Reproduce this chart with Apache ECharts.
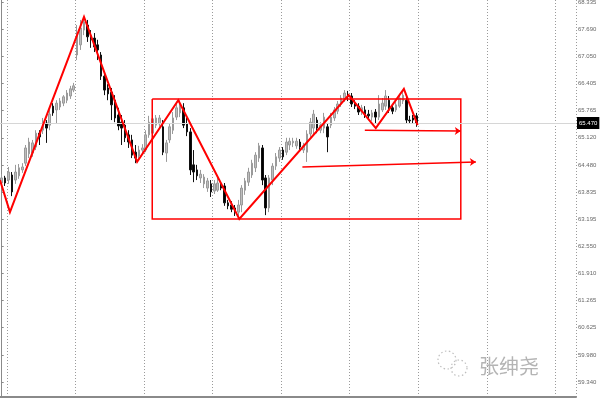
<!DOCTYPE html>
<html><head><meta charset="utf-8">
<script src="https://cdn.jsdelivr.net/npm/echarts@6/dist/echarts.min.js"></script>
<style>html,body{margin:0;padding:0;background:#fff}#c{width:600px;height:400px}</style>
</head><body><div id="c"></div>
<script>
// ---- data ----
// candles: [open, close, low, high]
const candles = [
[64.05,64.17,63.98,64.26],[64.17,64.05,63.98,64.22],[64.12,64.31,64.03,64.43],[64.24,63.84,63.74,64.31],
[64.12,64.31,64.03,64.48],[64.22,64.41,64.15,64.50],[64.36,64.43,64.29,64.52],[64.52,64.88,64.45,64.95],
[64.74,65.02,64.64,65.12],[64.76,65.00,64.67,65.07],[64.90,65.23,64.83,65.30],[65.23,65.14,64.95,65.30],
[65.30,65.49,65.21,65.59],[65.47,65.35,65.00,65.54],[65.42,65.68,65.30,65.78],[65.87,65.71,65.64,65.94],
[65.78,65.94,65.47,66.01],[65.85,65.99,65.78,66.06],[65.94,66.09,65.87,66.13],[66.01,66.18,65.94,66.25],
[66.11,66.28,66.04,66.35],[66.25,66.35,66.20,66.42],[67.08,67.55,66.96,67.79],[67.32,67.72,67.20,67.91],
[67.67,67.86,67.55,67.96],[67.79,67.51,67.39,67.91],[67.53,67.44,67.25,67.67],[67.48,67.27,67.15,67.60],
[67.32,67.20,66.96,67.44],[67.08,66.58,66.49,67.15],[66.58,66.25,66.13,66.68],[66.30,66.16,66.01,66.39],
[66.20,65.90,65.54,66.30],[66.01,65.59,65.49,66.13],[65.66,65.40,65.30,65.83],[65.49,65.35,64.95,65.66],
[65.42,65.12,65.02,65.54],[65.19,65.02,64.88,65.30],[65.07,64.71,64.64,65.19],[64.78,64.64,64.52,64.95],
[64.69,64.83,64.60,64.93],[64.83,64.88,64.76,64.97],[64.83,65.19,64.78,65.30],[65.19,65.49,65.12,65.64],
[65.23,65.57,65.16,65.66],[65.42,65.59,65.35,65.66],[65.45,65.59,65.38,65.66],[65.38,64.78,64.71,65.54],
[64.76,65.00,64.55,65.07],[65.07,65.38,65.00,65.45],[65.30,65.59,65.21,65.73],[65.61,65.83,65.54,65.94],
[65.71,65.92,65.61,66.01],[65.83,65.42,65.35,65.94],[65.45,65.26,65.16,65.59],[65.26,64.36,64.24,65.35],
[64.48,64.31,64.07,64.83],[64.36,64.22,64.12,64.48],[64.17,64.26,64.05,64.36],[64.03,64.19,63.93,64.26],
[63.93,64.10,63.84,64.17],[64.03,63.84,63.72,64.12],[63.86,64.03,63.79,64.12],[63.88,64.05,63.84,64.17],
[63.98,63.93,63.88,64.07],[63.98,63.58,63.51,64.05],[63.58,63.51,63.43,63.65],[63.53,63.43,63.36,63.62],
[63.46,63.36,63.27,63.53],[63.36,63.53,63.20,63.65],[63.53,63.93,63.36,64.00],[63.88,64.10,63.77,64.17],
[64.07,64.31,63.98,64.41],[64.24,64.52,64.17,64.60],[64.41,64.71,64.31,64.78],[64.64,64.93,64.55,65.00],
[64.88,64.12,64.00,64.95],[64.17,63.46,63.29,64.24],[63.46,64.17,63.36,64.24],[64.12,64.45,64.00,64.52],
[64.45,64.67,64.36,64.76],[64.64,64.83,64.55,64.90],[64.83,64.67,64.60,64.90],[64.78,65.02,64.71,65.12],
[64.95,65.04,64.83,65.12],[65.00,65.04,64.90,65.12],[64.93,65.04,64.86,65.12],[65.02,64.90,64.83,65.09],
[64.83,64.93,64.76,65.00],[64.78,65.21,64.55,65.30],[65.21,65.49,65.14,65.59],[65.35,65.68,65.19,65.78],
[65.54,65.35,65.23,65.61],[65.30,65.42,65.23,65.49],[65.35,65.61,65.23,65.71],[65.38,65.14,64.78,65.45],
[65.42,65.61,65.35,65.71],[65.59,65.78,65.52,65.85],[65.75,65.92,65.68,65.99],[65.92,66.06,65.85,66.13],
[66.04,66.18,65.97,66.25],[66.13,66.09,65.99,66.23],[66.11,65.92,65.85,66.18],[65.94,65.87,65.80,66.01],
[65.87,65.73,65.66,65.94],[65.75,65.83,65.66,65.90],[65.78,65.68,65.59,65.87],[65.68,65.64,65.54,65.78],
[65.61,65.71,65.52,65.78],[65.73,65.61,65.45,65.80],[65.61,65.92,65.54,66.13],[65.78,65.94,65.73,66.06],
[65.87,66.11,65.78,66.25],[66.01,65.78,65.71,66.11],[65.83,65.75,65.68,65.92],[65.78,65.90,65.73,65.97],
[65.87,66.06,65.83,66.16],[65.99,66.13,65.92,66.25],[66.01,65.54,65.47,66.11],[65.54,65.52,65.45,65.64],
[65.59,65.54,65.45,65.66],[65.64,65.47,65.38,65.71]
];
const slotCount = 168;              // bar slots along the time axis (incl. empty right margin)
const priceTicks = [68.335,67.690,67.050,66.405,65.765,65.120,64.480,63.835,63.195,62.550,61.910,61.265,60.625,59.980,59.340];
const priceMin = 58.985, priceMax = 68.382;
const lastPrice = 65.470;
// annotations: [bar index, price]
const zigzag = [[-0.5,64.12],[2.4,63.36],[24.0,67.98],[39.5,64.55],[51.5,66.01],[69.3,63.20],[101.2,66.13],[109.1,65.35],[117.3,66.28],[121.3,65.42]];
const box = [[43.9,66.04],[133.9,63.20]];
const arrowUpper = [[105.9,65.30],[133.9,65.28]];
const arrowLower = [[87.7,64.43],[138.3,64.55]];
const watermark = '张绅尧';

// ---- chart ----
const categories = Array.from({length: slotCount}, (_, i) => String(i));
const boxPath = [[box[0][0],box[0][1]],[box[1][0],box[0][1]],[box[1][0],box[1][1]],[box[0][0],box[1][1]],[box[0][0],box[0][1]]];
const red = '#ff0000';

const chart = echarts.init(document.getElementById('c'), null, {renderer:'canvas'});
chart.setOption({
  animation: false,
  backgroundColor: '#ffffff',
  grid: {left: 0, right: 24, top: 0, bottom: 3, containLabel: false, outerBoundsMode: 'none'},
  xAxis: [{
    type: 'category', data: categories, boundaryGap: true,
    axisLine: {show: true, lineStyle: {color: '#8a8a8a', width: 2}},
    axisTick: {show: false}, axisLabel: {show: false},
    splitLine: {show: true, interval: function (idx) { return idx % 20 === 2; },
      lineStyle: {color: '#9a9a9a', width: 1, type: [1, 2]}}
  }, {
    type: 'value', min: -0.5, max: slotCount - 0.5, show: false,
    splitLine: {show: false}
  }],
  yAxis: [{
    type: 'value', position: 'right', min: priceMin, max: priceMax, scale: true,
    axisLine: {show: true, lineStyle: {color: '#8a8a8a', width: 1}},
    axisTick: {show: true, length: 2, lineStyle: {color: '#8a8a8a'}, customValues: priceTicks},
    axisLabel: {show: true, customValues: priceTicks, color: '#666', fontSize: 6, margin: 2,
      fontFamily: 'Liberation Sans', formatter: v => v.toFixed(3)},
    splitLine: {show: false}
  }],
  series: [{
    type: 'candlestick', data: candles, barWidth: 2,
    itemStyle: {color: '#bdbdbd', color0: '#000000', borderColor: '#9a9a9a', borderColor0: '#111111', borderWidth: 1},
    markLine: {
      silent: true, symbol: ['none','none'],
      lineStyle: {color: '#d6d6d6', type: 'solid', width: 1},
      label: {show: true, position: 'end', distance: 1, formatter: () => lastPrice.toFixed(3),
        backgroundColor: '#000', color: '#fff', fontSize: 6, padding: [3, 2], fontFamily: 'Liberation Sans'},
      data: [{yAxis: lastPrice}]
    },
    z: 2
  }, {
    type: 'lines', coordinateSystem: 'cartesian2d', xAxisIndex: 1, yAxisIndex: 0,
    polyline: true, silent: true, symbol: ['none','arrow'], symbolSize: 7,
    lineStyle: {color: red, width: 2, opacity: 1},
    data: [{coords: zigzag}], z: 5
  }, {
    type: 'lines', coordinateSystem: 'cartesian2d', xAxisIndex: 1, yAxisIndex: 0,
    polyline: true, silent: true, symbol: 'none',
    lineStyle: {color: red, width: 1.5, opacity: 1},
    data: [{coords: boxPath}], z: 4
  }, {
    type: 'lines', coordinateSystem: 'cartesian2d', xAxisIndex: 1, yAxisIndex: 0,
    silent: true, symbol: ['none','arrow'], symbolSize: 6,
    lineStyle: {color: red, width: 1.5, opacity: 1},
    data: [{coords: arrowUpper}, {coords: arrowLower}], z: 4
  }],
  graphic: [
    {type: 'circle', shape: {cx: 447, cy: 360, r: 9}, style: {fill: 'none', stroke: '#bdbdbd', lineWidth: 1.2, lineDash: [1.5, 2.5]}, silent: true},
    {type: 'circle', shape: {cx: 459, cy: 368, r: 8}, style: {fill: 'none', stroke: '#bdbdbd', lineWidth: 1.2, lineDash: [1.5, 2.5]}, silent: true},
    {type: 'text', left: 479, top: 356, style: {text: watermark, fill: '#b4b4b4', fontSize: 20, fontFamily: 'Noto Sans CJK SC'}, silent: true}
  ]
});
</script></body></html>
